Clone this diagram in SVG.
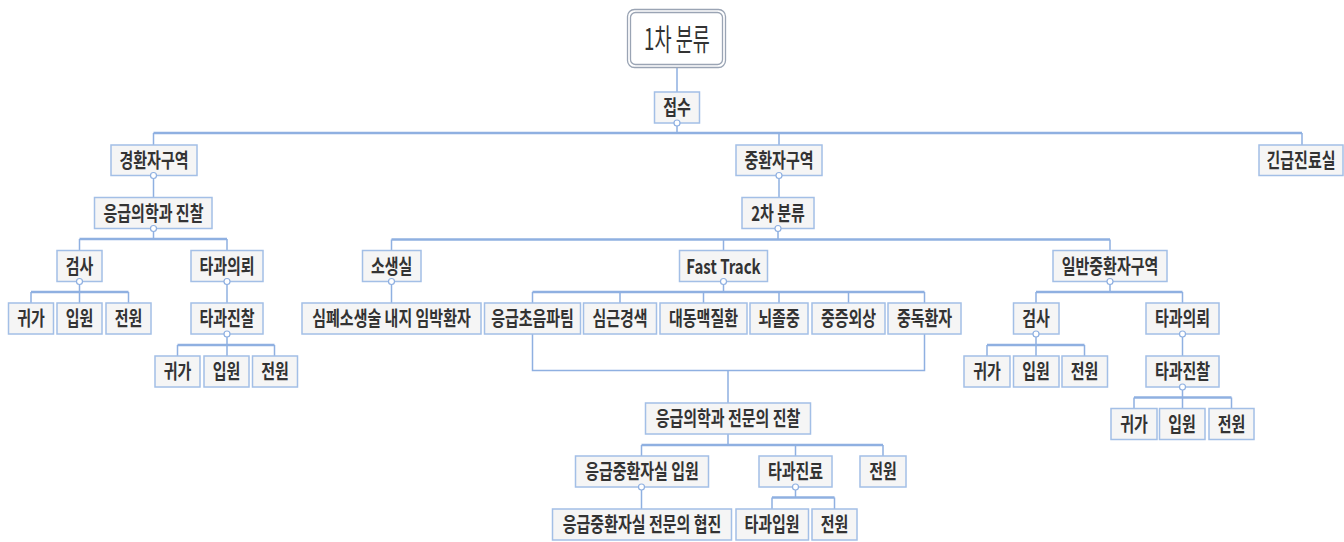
<svg xmlns="http://www.w3.org/2000/svg" width="1344" height="542" viewBox="0 0 1344 542">
<style>
.b{fill:#f5f5f5;stroke:#a3bfe6;stroke-width:1.5}
.t{font-family:"Noto Sans CJK KR","Malgun Gothic",sans-serif;font-weight:700;font-size:20px;fill:#333;text-anchor:middle}
.rt{font-family:"Noto Sans CJK KR",sans-serif;font-weight:400;font-size:30px;fill:#333;text-anchor:middle}
.bar{stroke:#8fb0e1;stroke-width:2.5;fill:none}
.tk{stroke:#8fb0e1;stroke-width:1.5;fill:none}
.c{fill:#fff;stroke:#8fb0e1;stroke-width:1.2}
</style>
<rect width="1344" height="542" fill="#fff"/>
<g id="connectors">
<path class="tk" d="M677,68V92M677,123V133"/>
<path class="bar" d="M153.5,133H1302"/>
<path class="tk" d="M153.5,133V145M779,133V145M1302,133V145"/>
<path class="tk" d="M153.5,175.5V197.5"/>
<path class="bar" d="M79.5,239H227"/>
<path class="tk" d="M153.5,228.5V239M79.5,239V250.5M227,239V250.5"/>
<path class="bar" d="M31,292H128.5"/>
<path class="tk" d="M79.5,281.5V303M31,292V303M128.5,292V303"/>
<path class="tk" d="M227,281.5V303"/>
<path class="bar" d="M177.5,345H274.5"/>
<path class="tk" d="M227,334V356M177.5,345V356M274.5,345V356"/>
<path class="tk" d="M779,175.5V197.5"/>
<path class="bar" d="M391.5,239.5H1110"/>
<path class="tk" d="M778,228.5V239.5M391.5,239.5V250.5M723.5,239.5V250.5M1110,239.5V250.5"/>
<path class="tk" d="M391.5,281.5V303"/>
<path class="bar" d="M532.5,292H924.5"/>
<path class="tk" d="M723.5,281.5V292M532.5,292V303M620,292V303M703.5,292V303M779,292V303M848.5,292V303M924.5,292V303"/>
<path class="tk" d="M532.5,334V370.5H924.5V334M728,370.5V403"/>
<path class="bar" d="M641.5,445H883"/>
<path class="tk" d="M728,434V445M641.5,445V456M795.5,445V456M883,445V456"/>
<path class="tk" d="M641.5,487V509"/>
<path class="bar" d="M772,497.5H834.5"/>
<path class="tk" d="M795.5,487V497.5M772,497.5V509M834.5,497.5V509"/>
<path class="bar" d="M1036,292H1182.5"/>
<path class="tk" d="M1110,281.5V292M1036,292V303M1182.5,292V303"/>
<path class="bar" d="M987,345H1084.5"/>
<path class="tk" d="M1036,334V356M987,345V356M1084.5,345V356"/>
<path class="tk" d="M1182.5,334V356"/>
<path class="bar" d="M1134,397.5H1231.5"/>
<path class="tk" d="M1182.5,387V408.5M1134,397.5V408.5M1231.5,397.5V408.5"/>
</g>
<g id="root">
<rect x="627.5" y="9.5" width="98" height="58" rx="7" fill="#fff" stroke="#9aa4b4" stroke-width="1.3"/>
<rect x="630.5" y="12.5" width="92" height="52" rx="5" fill="#fff" stroke="#9aa4b4" stroke-width="1.3"/>
<text class="rt" transform="translate(677,50) scale(0.62,1)">1차 분류</text>
</g>
<g id="n-jeopsu"><rect class="b" x="654.5" y="92" width="45" height="31"/><text class="t" transform="translate(677,115) scale(0.75,1)">접수</text><circle class="c" cx="677" cy="123" r="3"/></g>
<g id="n-gyeong"><rect class="b" x="111" y="145" width="86" height="30.5"/><text class="t" transform="translate(154,167.5) scale(0.75,1)">경환자구역</text><circle class="c" cx="153.5" cy="175.5" r="3"/></g>
<g id="n-jung"><rect class="b" x="736" y="145" width="86" height="30.5"/><text class="t" transform="translate(779,167.5) scale(0.75,1)">중환자구역</text><circle class="c" cx="779" cy="175.5" r="3"/></g>
<g id="n-ginkeup"><rect class="b" x="1259" y="145" width="84" height="30.5"/><text class="t" transform="translate(1301,167.5) scale(0.75,1)">긴급진료실</text></g>
<g id="n-eung1"><rect class="b" x="94.5" y="197.5" width="117.5" height="31"/><text class="t" transform="translate(153.5,220.5) scale(0.75,1)">응급의학과 진찰</text><circle class="c" cx="153.5" cy="228.5" r="3"/></g>
<g id="n-2cha"><rect class="b" x="742" y="197.5" width="72" height="31"/><text class="t" transform="translate(778,220.5) scale(0.75,1)">2차 분류</text><circle class="c" cx="778" cy="228.5" r="3"/></g>
<g id="n-geomsa-l"><rect class="b" x="57" y="250.5" width="45" height="31"/><text class="t" transform="translate(79.5,273.5) scale(0.75,1)">검사</text><circle class="c" cx="79.5" cy="281.5" r="3"/></g>
<g id="n-uiroe-l"><rect class="b" x="191" y="250.5" width="72" height="31"/><text class="t" transform="translate(227,273.5) scale(0.75,1)">타과의뢰</text><circle class="c" cx="227" cy="281.5" r="3"/></g>
<g id="n-sosaeng"><rect class="b" x="362.5" y="250.5" width="58.5" height="31"/><text class="t" transform="translate(391.7,273.5) scale(0.75,1)">소생실</text><circle class="c" cx="391.5" cy="281.5" r="3"/></g>
<g id="n-fast"><rect class="b" x="679.5" y="250.5" width="88" height="31"/><text class="t" transform="translate(723.5,273.5) scale(0.75,1)">Fast Track</text><circle class="c" cx="723.5" cy="281.5" r="3"/></g>
<g id="n-ilban"><rect class="b" x="1053" y="250.5" width="114" height="31"/><text class="t" transform="translate(1110,273.5) scale(0.75,1)">일반중환자구역</text><circle class="c" cx="1110" cy="281.5" r="3"/></g>
<g id="n-gwiga-l1"><rect class="b" x="8.5" y="303" width="45" height="31"/><text class="t" transform="translate(31,326) scale(0.75,1)">귀가</text></g>
<g id="n-ipwon-l1"><rect class="b" x="57" y="303" width="45" height="31"/><text class="t" transform="translate(79.5,326) scale(0.75,1)">입원</text></g>
<g id="n-jeonwon-l1"><rect class="b" x="106" y="303" width="45" height="31"/><text class="t" transform="translate(128.5,326) scale(0.75,1)">전원</text></g>
<g id="n-jinchal-l"><rect class="b" x="191" y="303" width="72" height="31"/><text class="t" transform="translate(227,326) scale(0.75,1)">타과진찰</text><circle class="c" cx="227" cy="334" r="3"/></g>
<g id="n-simpye"><rect class="b" x="302" y="303" width="179" height="31"/><text class="t" transform="translate(391.5,326) scale(0.75,1)">심폐소생술 내지 임박환자</text></g>
<g id="n-chouem"><rect class="b" x="484.5" y="303" width="96" height="31"/><text class="t" transform="translate(532.5,326) scale(0.75,1)">응급초음파팀</text></g>
<g id="n-simgeun"><rect class="b" x="583.5" y="303" width="73" height="31"/><text class="t" transform="translate(620,326) scale(0.75,1)">심근경색</text></g>
<g id="n-daedong"><rect class="b" x="660" y="303" width="87" height="31"/><text class="t" transform="translate(703.5,326) scale(0.75,1)">대동맥질환</text></g>
<g id="n-noejol"><rect class="b" x="750" y="303" width="58" height="31"/><text class="t" transform="translate(779,326) scale(0.75,1)">뇌졸중</text></g>
<g id="n-jungjeung"><rect class="b" x="812" y="303" width="73" height="31"/><text class="t" transform="translate(848.5,326) scale(0.75,1)">중증외상</text></g>
<g id="n-jungdok"><rect class="b" x="888" y="303" width="73" height="31"/><text class="t" transform="translate(924.5,326) scale(0.75,1)">중독환자</text></g>
<g id="n-geomsa-r"><rect class="b" x="1013.5" y="303" width="45.5" height="31"/><text class="t" transform="translate(1036,326) scale(0.75,1)">검사</text><circle class="c" cx="1036" cy="334" r="3"/></g>
<g id="n-uiroe-r"><rect class="b" x="1146" y="303" width="73" height="31"/><text class="t" transform="translate(1182.5,326) scale(0.75,1)">타과의뢰</text><circle class="c" cx="1182.5" cy="334" r="3"/></g>
<g id="n-gwiga-l2"><rect class="b" x="155" y="356" width="45" height="31"/><text class="t" transform="translate(177.5,379) scale(0.75,1)">귀가</text></g>
<g id="n-ipwon-l2"><rect class="b" x="204" y="356" width="45" height="31"/><text class="t" transform="translate(226.5,379) scale(0.75,1)">입원</text></g>
<g id="n-jeonwon-l2"><rect class="b" x="252.5" y="356" width="45" height="31"/><text class="t" transform="translate(275,379) scale(0.75,1)">전원</text></g>
<g id="n-gwiga-r1"><rect class="b" x="964" y="356" width="46" height="31"/><text class="t" transform="translate(987,379) scale(0.75,1)">귀가</text></g>
<g id="n-ipwon-r1"><rect class="b" x="1013.5" y="356" width="45.5" height="31"/><text class="t" transform="translate(1036,379) scale(0.75,1)">입원</text></g>
<g id="n-jeonwon-r1"><rect class="b" x="1062" y="356" width="45.5" height="31"/><text class="t" transform="translate(1084.5,379) scale(0.75,1)">전원</text></g>
<g id="n-jinchal-r"><rect class="b" x="1146" y="356" width="73" height="31"/><text class="t" transform="translate(1182.5,379) scale(0.75,1)">타과진찰</text><circle class="c" cx="1182.5" cy="387" r="3"/></g>
<g id="n-jeonmun"><rect class="b" x="645.5" y="403" width="165" height="31"/><text class="t" transform="translate(728,426) scale(0.75,1)">응급의학과 전문의 진찰</text></g>
<g id="n-gwiga-r2"><rect class="b" x="1111" y="408.5" width="46" height="31"/><text class="t" transform="translate(1134,431.5) scale(0.75,1)">귀가</text></g>
<g id="n-ipwon-r2"><rect class="b" x="1159.5" y="408.5" width="45.5" height="31"/><text class="t" transform="translate(1182,431.5) scale(0.75,1)">입원</text></g>
<g id="n-jeonwon-r2"><rect class="b" x="1209" y="408.5" width="45" height="31"/><text class="t" transform="translate(1231.5,431.5) scale(0.75,1)">전원</text></g>
<g id="n-icu"><rect class="b" x="575.5" y="456" width="133" height="31"/><text class="t" transform="translate(642,479) scale(0.75,1)">응급중환자실 입원</text><circle class="c" cx="641.5" cy="487" r="3"/></g>
<g id="n-tagwa"><rect class="b" x="759" y="456" width="73" height="31"/><text class="t" transform="translate(795.5,479) scale(0.75,1)">타과진료</text><circle class="c" cx="795.5" cy="487" r="3"/></g>
<g id="n-jeonwon-c"><rect class="b" x="860" y="456" width="46" height="31"/><text class="t" transform="translate(883,479) scale(0.75,1)">전원</text></g>
<g id="n-hyeopjin"><rect class="b" x="552.5" y="509" width="179" height="31"/><text class="t" transform="translate(642,532) scale(0.75,1)">응급중환자실 전문의 협진</text></g>
<g id="n-tagwaip"><rect class="b" x="736" y="509" width="72.5" height="31"/><text class="t" transform="translate(772,532) scale(0.75,1)">타과입원</text></g>
<g id="n-jeonwon-c2"><rect class="b" x="812" y="509" width="45" height="31"/><text class="t" transform="translate(834.5,532) scale(0.75,1)">전원</text></g>
</svg>
